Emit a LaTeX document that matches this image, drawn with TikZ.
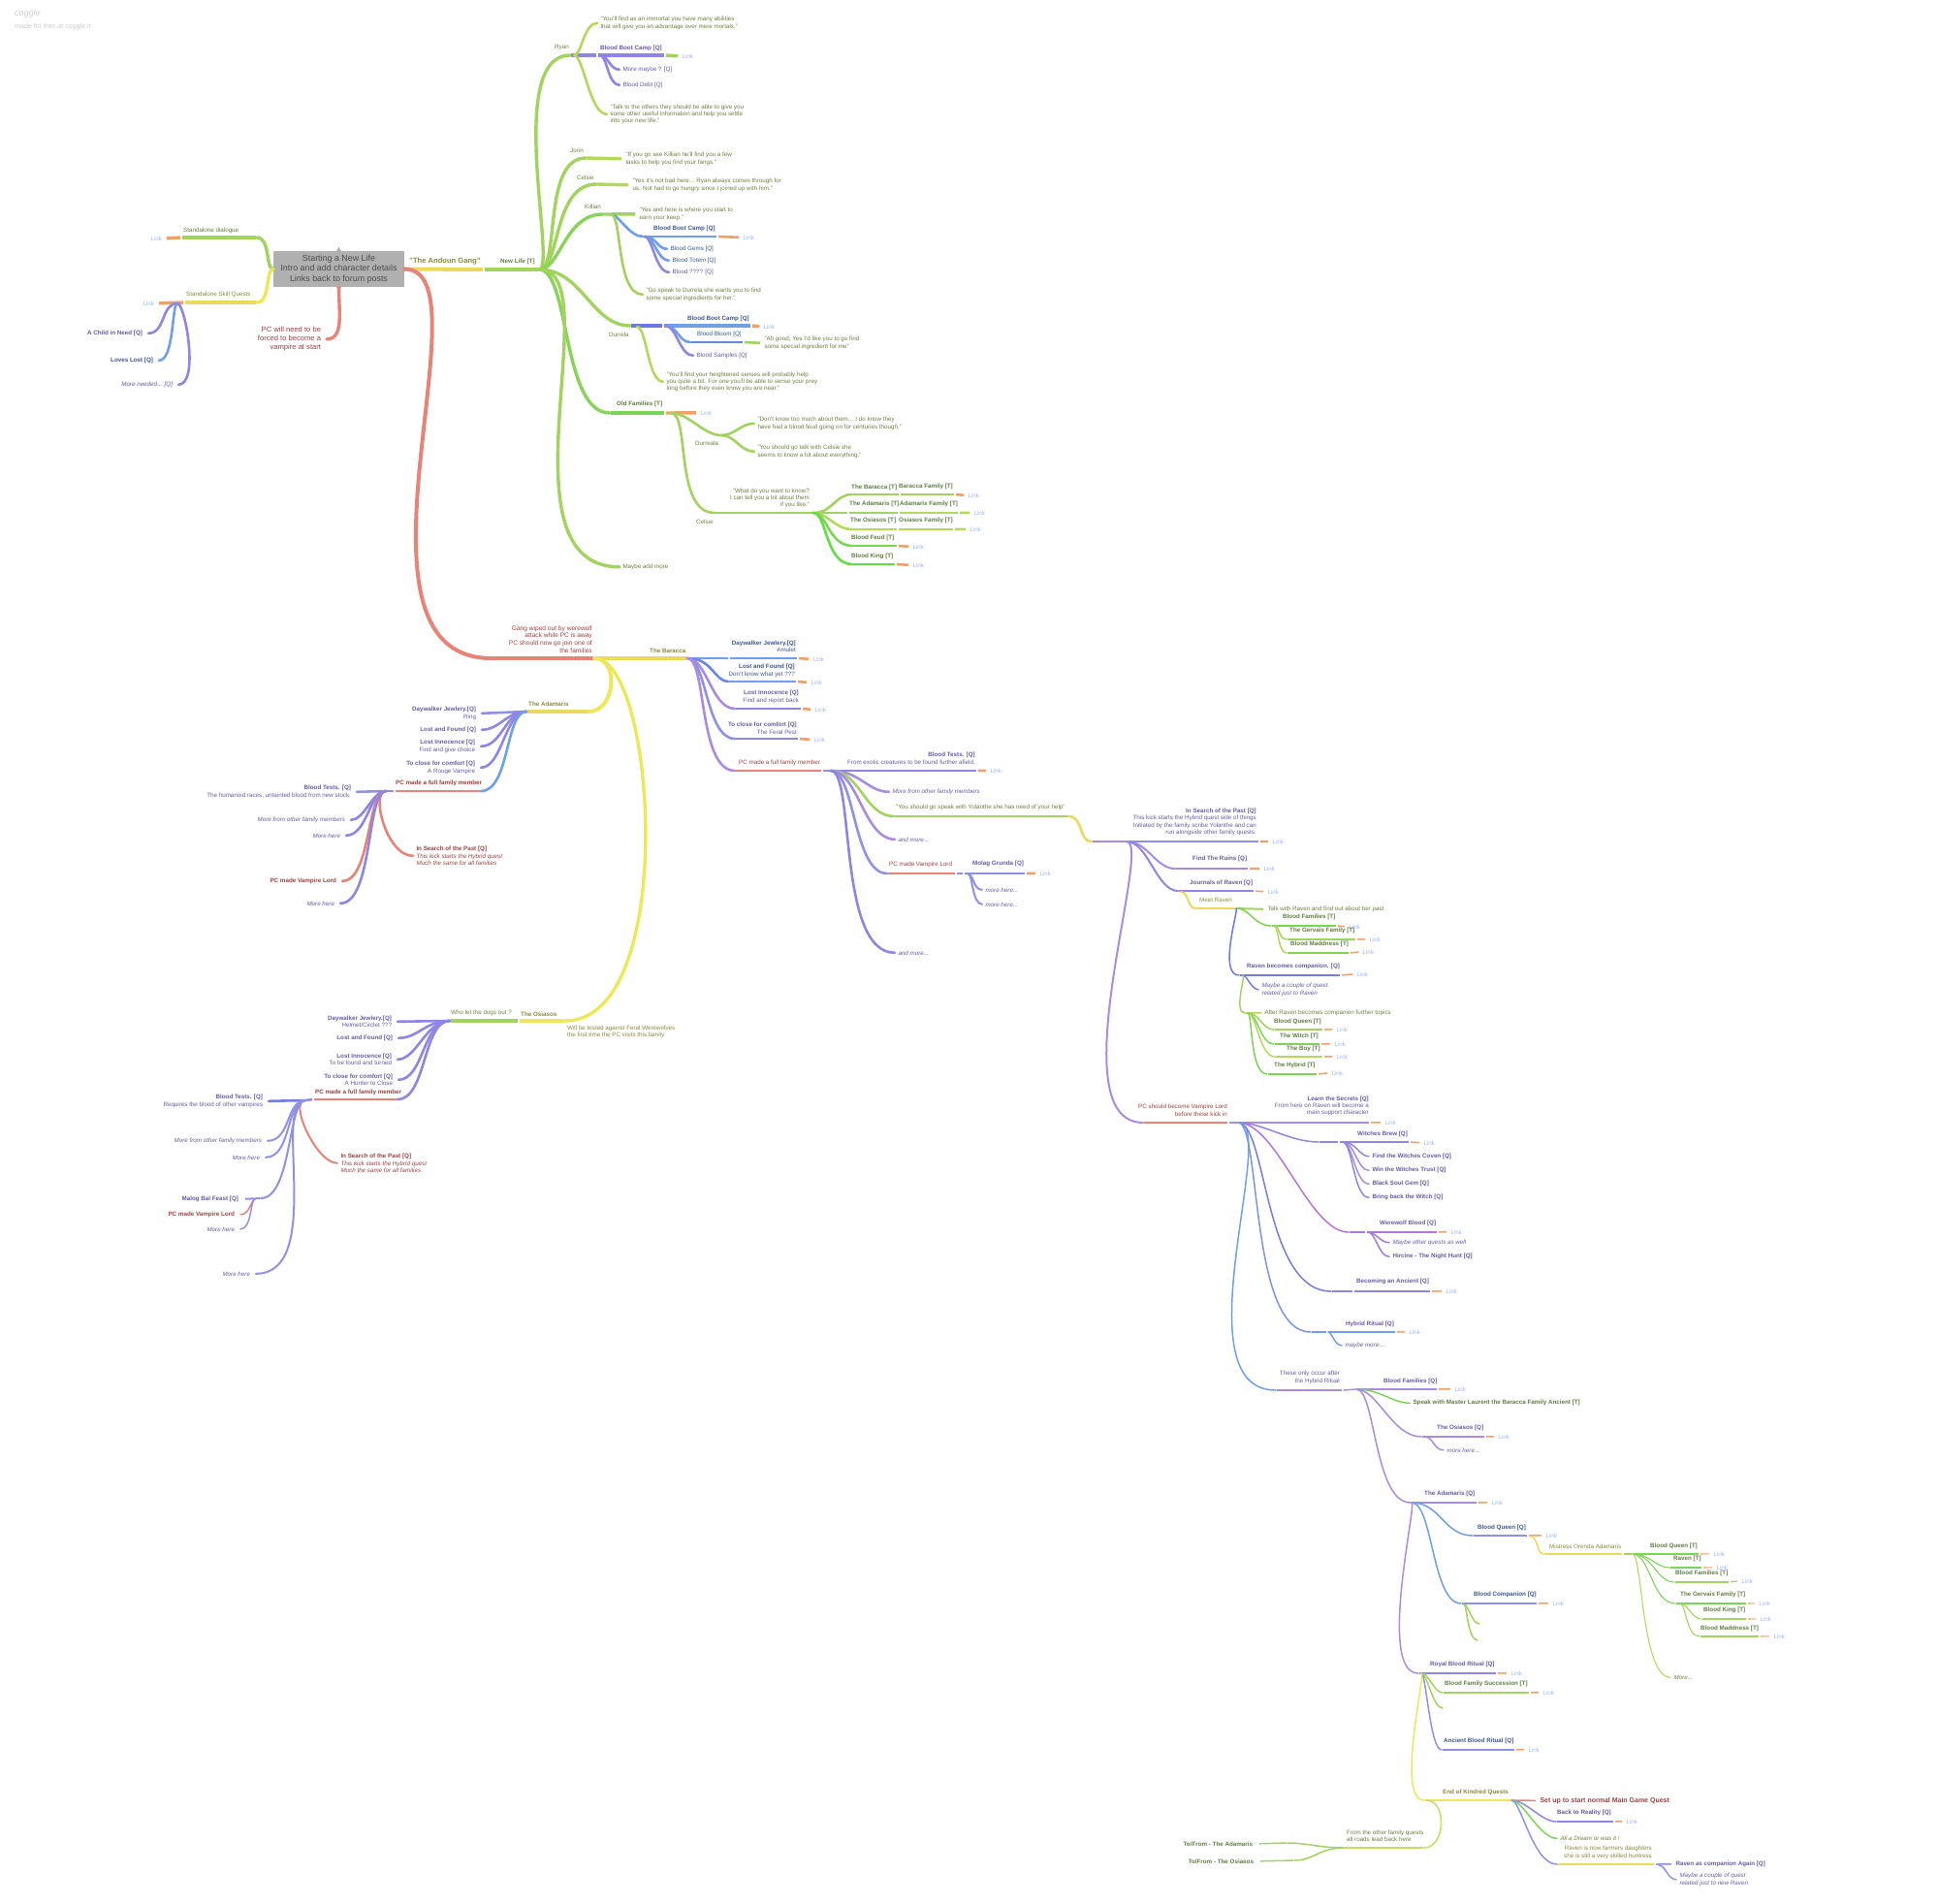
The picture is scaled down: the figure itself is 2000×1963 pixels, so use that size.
\documentclass[tikz,border=0pt]{standalone}
\usepackage{fontspec}
\setmainfont{Liberation Sans}
\definecolor{boxg}{HTML}{B0B0B0}
\definecolor{cgrn}{HTML}{A2D35E}
\definecolor{clim}{HTML}{B4D85A}
\definecolor{cgre}{HTML}{7CD455}
\definecolor{cyel}{HTML}{ECD85A}
\definecolor{clem}{HTML}{ECE85A}
\definecolor{cred}{HTML}{E88378}
\definecolor{corg}{HTML}{F2A066}
\definecolor{cblu}{HTML}{6E9FE8}
\definecolor{cvio}{HTML}{8F85E2}
\definecolor{cpur}{HTML}{A78CE0}
\definecolor{cind}{HTML}{6A78E0}
\definecolor{cmag}{HTML}{B575D8}
\definecolor{cper}{HTML}{8F90E8}
\definecolor{tgn}{HTML}{5E7D3E}
\definecolor{tqt}{HTML}{6D7F3F}
\definecolor{tol}{HTML}{8A8A3C}
\definecolor{tpu}{HTML}{4B3D94}
\definecolor{tbl}{HTML}{3E5596}
\definecolor{trd}{HTML}{9C4040}
\definecolor{tlk}{HTML}{9DB8F0}
\newcommand{\lbfont}{\fontsize{6.25}{7.4}\selectfont}
\tikzset{
	wa/.style={line width=4pt,line cap=round},
	wb/.style={line width=3.4pt,line cap=round},
	wc/.style={line width=2.6pt,line cap=round},
	wd/.style={line width=2pt,line cap=round},
	we/.style={line width=1.5pt,line cap=round},
	wf/.style={line width=1.1pt,line cap=round},
	seg/.style={line cap=butt,shorten <=0.8pt,shorten >=0.8pt},
	nl/.style={inner sep=0pt,font=\lbfont,anchor=west,align=left,yshift=-0.8pt},
	nr/.style={inner sep=0pt,font=\lbfont,anchor=east,align=right,yshift=-0.8pt},
	leaf/.style={nl,outer sep=3.5pt},
	leafr/.style={nr,outer sep=6pt},
	qq/.style={font=\lbfont\bfseries},
	ii/.style={font=\lbfont\itshape},
	link/.style={leaf,text=tlk},
	linkr/.style={nr,outer sep=4pt,text=tlk},
	tg/.style={text=tgn},
	tq/.style={text=tqt},
	to/.style={text=tol},
	tp/.style={text=tpu!85},
	tb/.style={text=tbl},
	tr/.style={text=trd},
	rootbox/.style={fill=boxg,minimum width=135pt,minimum height=37pt,inner sep=0pt,align=center,font=\fontsize{8.9}{10.2}\selectfont,text=black!70},
	speck/.style={fill=black!30}
}
\begin{document}
\begin{tikzpicture}[x=1pt,y=-1pt]
	\useasboundingbox (0,0) rectangle (2000,1963);
	\node[nl,text=black!20,font=\fontsize{9}{10}\selectfont\itshape] (logo) at (15,13) {coggle};
	\node[nl,text=black!20,font=\fontsize{7.1}{8}\selectfont] (made) at (15,27) {made for free at coggle.it};
	\node[rootbox] (root) at (349.5,277.5) {Starting a New Life\\Intro and add character details\\Links back to forum posts};
	\fill[boxg] (root.north) +(-2.5,0) -- +(0,-4) -- +(2.5,0) -- cycle;%small tips of the box
	\fill[boxg] (root.south) +(-2.5,0) -- +(0,4) -- +(2.5,0) -- cycle;
	\fill[boxg] (root.west) +(0,-2.5) -- +(-4,0) -- +(0,2.5) -- cycle;
	\fill[boxg] (root.east) +(0,-2.5) -- +(4,0) -- +(0,2.5) -- cycle;

	%left of the box
	\coordinate (sdlg) at (265,245);
	\coordinate (sdlgb) at (187,245);
	\coordinate (sskl) at (265,312);
	\coordinate (ssklb) at (190,312);
	\coordinate (sskh) at (183,313);
	\node[linkr] (sdlgk) at (171,245) {Link};
	\node[linkr] (ssklk) at (163,312) {Link};
	\node[nl,tg] (sdlgt) at (189,237) {Standalone dialogue};
	\node[nl,to] (ssklt) at (192,303) {Standalone Skill Quests};
	\node[leafr,qq,tp] (child) at (153,343) {A Child in Need [Q]};
	\node[leafr,qq,tb] (loves) at (164,371) {Loves Lost [Q]};
	\node[leafr,ii,tp] (needed) at (184,396) {More needed... [Q]};
	\node[leafr,tr,font=\fontsize{7.6}{9}\selectfont] (forced) at (337,349) {PC will need to be\\forced to become a\\vampire at start};
	\draw[wb,cgrn] (root.west) .. controls +(-8,0) and +(14,0) .. (sdlg);
	\draw[wb,cgrn,seg] (sdlg) -- (sdlgb);
	\draw[wb,corg,seg] (sdlgb) -- (sdlgk.east);
	\draw[wb,clem] (root.west) .. controls +(-8,0) and +(14,0) .. (sskl);
	\draw[wb,cyel,seg] (sskl) -- (ssklb);
	\draw[wb,corg,seg] (ssklb) -- (ssklk.east);
	\draw[wc,cvio] (sskh) .. controls +(-17,0) and +(18,0) .. (child.east);
	\draw[wc,cblu] (sskh) .. controls +(-6,0) and +(16,0) .. (loves.east);
	\draw[wc,cvio] (sskh) .. controls +(8,0) and +(22,0) .. (needed.east);
	\draw[wb,cred] (root.south) .. controls +(0,25) and +(18,0) .. (forced.east);

	%the gang and new life
	\coordinate (gang) at (499,278);
	\coordinate (life) at (556,278);
	\node[nl,to,font=\fontsize{7.6}{8}\selectfont\bfseries] (gangt) at (422,269) {"The Andoun Gang"};
	\node[nl,qq,tg] (lifet) at (516,269) {New Life [T]};
	\draw[wa,cyel,seg] (root.east) -- (gang);
	\draw[wa,cgrn,seg] (gang) -- (life);

	\coordinate (ryan) at (588,57);
	\coordinate (ryanb) at (616,57);
	\coordinate (ryanc) at (686,57);
	\coordinate (ryanh) at (592,57);
	\coordinate (ryanj) at (619,57);
	\node[nl,tq] (ryant) at (572,48) {Ryan};
	\node[nl,qq,tp] (ryanq) at (619,49) {Blood Boot Camp [Q]};
	\node[link] (ryank) at (700,57) {Link};
	\node[leaf,tq] (ryana) at (616,23) {"You'll find as an immortal you have many abilities\\that will give you an advantage over mere mortals."};
	\node[leaf,tq] (ryanz) at (626,117) {"Talk to the others they should be able to give you\\some other useful information and help you settle\\into your new life."};
	\node[leaf,tp] (maybe) at (639,71) {More maybe ? [Q]};
	\node[leaf,tp] (debt) at (639,87) {Blood Debt [Q]};
	\draw[wb,cgrn] (life) .. controls +(19,0) and +(-68,0) .. (ryan);
	\draw[wb,cvio,seg] (ryan) -- (ryanb);
	\draw[wb,cvio,seg] (ryanb) -- (ryanc);
	\draw[wb,cgrn,seg] (ryanc) -- (ryank.west);
	\draw[wc,clim] (ryanh) .. controls +(8,0) and +(-14,0) .. (ryana.west);
	\draw[wc,clim] (ryanh) .. controls +(10,0) and +(-18,0) .. (ryanz.west);
	\draw[wc,cvio] (ryanj) .. controls +(8,0) and +(-10,0) .. (maybe.west);
	\draw[wc,cvio] (ryanj) .. controls +(7,0) and +(-12,0) .. (debt.west);

	\coordinate (jorin) at (604,163);
	\coordinate (celsa) at (615,190);
	\coordinate (kill) at (622,221);
	\coordinate (killh) at (630,221);
	\coordinate (killb) at (663,244);
	\coordinate (killc) at (740,244);
	\coordinate (killj) at (665,244);
	\node[nl,tq] (jorint) at (588,154) {Jorin};
	\node[nl,tq] (celsat) at (595,182) {Celsie};
	\node[nl,tq] (killt) at (603,212) {Killian};
	\node[leaf,tq] (jorinq) at (642,163) {"If you go see Killian he'll find you a few\\tasks to help you find your fangs."};
	\node[leaf,tq] (celsq) at (649,190) {"Yes it's not bad here... Ryan always comes through for\\us. Not had to go hungry since I joined up with him."};
	\node[leaf,tq] (killq) at (656,220) {"Yes and here is where you start to\\earn your keep."};
	\node[leaf,tq] (killz) at (663,303) {"Go speak to Durrela she wants you to find\\some special ingredients for her."};
	\node[nl,qq,tb] (killt) at (674,235) {Blood Boot Camp [Q]};
	\node[link] (killk) at (763,244) {Link};
	\node[leaf,tb] (gems) at (688,256) {Blood Gems [Q]};
	\node[leaf,tb] (totem) at (690,268) {Blood Totem [Q]};
	\node[leaf,tp] (blqq) at (690,280) {Blood ???? [Q]};
	\draw[wb,cgrn] (life) .. controls +(22,0) and +(-45,0) .. (jorin);
	\draw[wb,clim,seg] (jorin) -- (jorinq.west);
	\draw[wb,cgrn] (life) .. controls +(22,0) and +(-45,0) .. (celsa);
	\draw[wb,clim,seg] (celsa) -- (celsq.west);
	\draw[wb,cgre!70!cgrn] (life) .. controls +(22,0) and +(-40,0) .. (kill);
	\draw[wb,cgrn,seg] (kill) -- (killq.west);
	\draw[wc,cblu] (killh) .. controls +(8,0) and +(-14,0) .. (killb);
	\draw[wc,cgrn] (killh) .. controls +(12,0) and +(-28,0) .. (killz.west);
	\draw[wc,cblu,seg] (killb) -- (killc);
	\draw[wc,corg,seg] (killc) -- (killk.west);
	\draw[wc,cblu] (killj) .. controls +(12,0) and +(-10,0) .. (gems.west);
	\draw[wc,cblu] (killj) .. controls +(10,0) and +(-12,0) .. (totem.west);
	\draw[wc,cvio] (killj) .. controls +(8,0) and +(-14,0) .. (blqq.west);

	\coordinate (durr) at (650,336);
	\coordinate (durrb) at (684,336);
	\coordinate (durrc) at (775,336);
	\coordinate (durrh) at (657,337);
	\coordinate (durrj) at (686,336);
	\coordinate (bloom) at (712,353);
	\coordinate (bloomb) at (767,353);
	\node[nl,tq] (durrt) at (628,344) {Durrela};
	\node[nl,qq,tb] (durrq) at (709,328) {Blood Boot Camp [Q]};
	\node[link] (durrk) at (784,336) {Link};
	\node[nl,tb] (bloomt) at (719,344) {Blood Bloom [Q]};
	\node[leaf,tq] (bloomq) at (785,353) {"Ah good, Yes I'd like you to go find\\some special ingredient for me"};
	\node[leaf,tp] (sample) at (715,366) {Blood Samples [Q]};
	\node[leaf,tq] (durrz) at (684,393) {"You'll find your heightened senses will probably help\\you quite a bit. For one you'll be able to sense your prey\\long before they even know you are near."};
	\draw[wb,cgrn] (life) .. controls +(45,0) and +(-40,0) .. (durr);
	\draw[wb,cind,seg] (durr) -- (durrb);
	\draw[wb,cblu,seg] (durrb) -- (durrc);
	\draw[wb,corg,seg] (durrc) -- (durrk.west);
	\draw[wc,cblu] (durrj) .. controls +(13,0) and +(-12,0) .. (bloom);
	\draw[wc,cind!70!cblu,seg] (bloom) -- (bloomb);
	\draw[wc,cgrn,seg] (bloomb) -- (bloomq.west);
	\draw[wc,cvio] (durrj) .. controls +(12,0) and +(-14,0) .. (sample.west);
	\draw[wc,clim] (durrh) .. controls +(10,0) and +(-16,0) .. (durrz.west);

	%old families
	\coordinate (oldf) at (629,426);
	\coordinate (oldfb) at (686,426);
	\coordinate (oldfh) at (692,426);
	\coordinate (drla) at (744,449);
	\coordinate (cels) at (737,529);
	\coordinate (celsb) at (839,529);
	\node[nl,qq,tg] (oldft) at (636,416) {Old Families [T]};
	\node[link] (oldfk) at (719,425) {Link};
	\node[nl,tq] (drlat) at (717,456) {Durreala};
	\node[leaf,tq] (drlaa) at (778,436) {"Don't know too much about them... I do know they\\have had a blood feud going on for centuries though."};
	\node[leaf,tq] (drlab) at (778,465) {"You should go talk with Celsie she\\seems to know a lot about everything."};
	\node[nl,tq] (celst) at (718,537) {Celsie};
	\node[nr,tq] (celsq) at (835,513) {"What do you want to know?\\I can tell you a bit about them\\if you like."};
	\node[leaf,tq] (maybet) at (639,584) {Maybe add more};
	\draw[wb,cgre!70!cgrn] (life) .. controls +(32,0) and +(-50,0) .. (oldf);
	\draw[wb,cgre,seg] (oldf) -- (oldfb);
	\draw[wb,corg,seg] (oldfb) -- (oldfk.west);
	\draw[wb,cgrn] (life) .. controls +(74,0) and +(-129,0) .. (maybet.west);
	\draw[wc,cgrn] (oldfh) .. controls +(18,0) and +(-18,0) .. (drla);
	\draw[wc,cgrn] (drla) .. controls +(14,0) and +(-14,0) .. (drlaa.west);
	\draw[wc,cgrn] (drla) .. controls +(14,0) and +(-14,0) .. (drlab.west);
	\draw[wc,cgrn] (oldfh) .. controls +(20,0) and +(-42,0) .. (cels);
	\draw[wc,cgrn,seg] (cels) -- (celsb);

	\coordinate (fbar) at (879,510);
	\coordinate (fbarb) at (928,510);
	\coordinate (fbarc) at (985,510);
	\coordinate (fada) at (875,529);
	\coordinate (fadab) at (927,529);
	\coordinate (fadac) at (989,529);
	\coordinate (fosi) at (879,546);
	\coordinate (fosib) at (926,546);
	\coordinate (fosic) at (984,546);
	\coordinate (ffeu) at (879,563);
	\coordinate (ffeub) at (926,563);
	\coordinate (fkin) at (879,582);
	\coordinate (fkinb) at (924,582);
	\node[nl,qq,tg] (fbart) at (878,502) {The Baracca [T]};
	\node[nl,qq,tg] (fbaru) at (927,501) {Baracca Family [T]};
	\node[link] (fbark) at (995,510) {Link};
	\node[nl,qq,tg] (fadat) at (876,519.5) {The Adamaris [T]};
	\node[nl,qq,tg] (fadau) at (928,519.5) {Adamaris Family [T]};
	\node[link] (fadak) at (1001,528) {Link};
	\node[nl,qq,tg] (fosit) at (877,536) {The Osiasos [T]};
	\node[nl,qq,tg] (fosiu) at (927,536) {Osiasos Family [T]};
	\node[link] (fosik) at (997,545) {Link};
	\node[nl,qq,tg] (ffeut) at (878,554) {Blood Feud [T]};
	\node[link] (ffeuk) at (938,563) {Link};
	\node[nl,qq,tg] (fkint) at (878,573) {Blood King [T]};
	\node[link] (fkink) at (938,582) {Link};
	\draw[wc,cgrn] (celsb) .. controls +(20,0) and +(-18,0) .. (fbar);
	\draw[wc,cgrn,seg] (fbar) -- (fbarb);
	\draw[wc,cgrn,seg] (fbarb) -- (fbarc);
	\draw[wc,corg,seg] (fbarc) -- (fbark.west);
	\draw[wc,cgrn,seg] (celsb) -- (fada);
	\draw[wc,cgrn,seg] (fada) -- (fadab);
	\draw[wc,clim,seg] (fadab) -- (fadac);
	\draw[wc,clim,seg] (fadac) -- (fadak.west);
	\draw[wc,clim] (celsb) .. controls +(15,0) and +(-18,0) .. (fosi);
	\draw[wc,clim,seg] (fosi) -- (fosib);
	\draw[wc,clim,seg] (fosib) -- (fosic);
	\draw[wc,clim,seg] (fosic) -- (fosik.west);
	\draw[wc,cgre] (celsb) .. controls +(14,0) and +(-24,0) .. (ffeu);
	\draw[wc,cgre,seg] (ffeu) -- (ffeub);
	\draw[wc,corg,seg] (ffeub) -- (ffeuk.west);
	\draw[wc,cgre!80!green] (celsb) .. controls +(14,0) and +(-28,0) .. (fkin);
	\draw[wc,cgre!80!green,seg] (fkin) -- (fkinb);
	\draw[wc,corg,seg] (fkinb) -- (fkink.west);

	%the families
	\coordinate (wipe) at (507,679);
	\coordinate (wipeb) at (613,679);
	\coordinate (bara) at (709,679);
	\node[nr,tr,font=\fontsize{6.6}{7.6}\selectfont] (wipet) at (611,658.5) {Gang wiped out by werewolf\\attack while PC is away\\PC should now go join one of\\the families};
	\node[nl,qq,to] (barat) at (670,670) {The Baracca};
	\draw[wa,cred] (root.east) .. controls +(90,0) and +(-167,0) .. (wipe);
	\draw[wa,cred,seg] (wipe) -- (wipeb);
	\draw[wa,cyel,seg] (wipeb) -- (bara);

	\coordinate (bday) at (752,679);
	\coordinate (bdayb) at (823,679);
	\coordinate (blos) at (751,703);
	\coordinate (blosb) at (822,703);
	\coordinate (binn) at (758,731);
	\coordinate (binnb) at (827,731);
	\coordinate (bclo) at (758,762);
	\coordinate (bclob) at (824,762);
	\coordinate (bful) at (758,795);
	\coordinate (bfulb) at (848,795);
	\coordinate (bhub) at (857,795);
	\coordinate (btes) at (1008,795);
	\coordinate (byol) at (922,842);
	\coordinate (byolb) at (1102,842);
	\coordinate (bvmp) at (915,901);
	\coordinate (bvmpb) at (986,901);
	\coordinate (bvmpc) at (994,901);
	\coordinate (bvmpd) at (1058,901);
	\coordinate (bvmph) at (999,902);
	\node[nr,tb] (bdayt) at (821,666) {\textbf{Daywalker Jewlery.[Q]}\\Amulet};
	\node[link] (bdayk) at (835,679) {Link};
	\node[nr,tb] (blost) at (820,691) {\textbf{Lost and Found [Q]}\\Don't know what yet ???};
	\node[link] (blosk) at (833,703) {Link};
	\node[nr,tp] (binnt) at (824,718) {\textbf{Lost Innocence [Q]}\\Find and report back};
	\node[link] (binnk) at (837,731) {Link};
	\node[nr,tp] (bclot) at (822,750.5) {\textbf{To close for comfort [Q]}\\The Feral Pest};
	\node[link] (bclok) at (836,762) {Link};
	\node[nl,tr] (bfult) at (762,786) {PC made a full family member};
	\node[nr,tp] (btest) at (1006,781.5) {\textbf{Blood Tests. [Q]}\\From exotic creatures to be found further afield.};
	\node[link] (btesk) at (1018,794) {Link};
	\node[leaf,ii,tp] (bmor) at (917,816) {More from other family members};
	\node[nl,tq] (byolt) at (924,832) {"You should go speak with Yolanthe she has need of your help"};
	\node[leaf,ii,tp] (band) at (923,865) {and more...};
	\node[leaf,ii,tp] (bane) at (923,982) {and more...};
	\node[nl,tr] (bvmpt) at (917,891.5) {PC made Vampire Lord};
	\node[nl,qq,tp] (bmolt) at (1003,890) {Molag Grunda [Q]};
	\node[link] (bmolk) at (1069,900) {Link};
	\node[leaf,ii,tp] (bmora) at (1013,917) {more here...};
	\node[leaf,ii,tp] (bmorb) at (1013,932) {more here...};
	\draw[wc,cblu,seg] (bara) -- (bday);
	\draw[wc,cblu,seg] (bday) -- (bdayb);
	\draw[wc,corg,seg] (bdayb) -- (bdayk.west);
	\draw[wc,cind!60!cblu] (bara) .. controls +(26,0) and +(-14,0) .. (blos);
	\draw[wc,cblu,seg] (blos) -- (blosb);
	\draw[wc,corg,seg] (blosb) -- (blosk.west);
	\draw[wc,cpur] (bara) .. controls +(20,0) and +(-24,0) .. (binn);
	\draw[wc,cvio,seg] (binn) -- (binnb);
	\draw[wc,corg,seg] (binnb) -- (binnk.west);
	\draw[wc,cper] (bara) .. controls +(20,0) and +(-30,0) .. (bclo);
	\draw[wc,cvio,seg] (bclo) -- (bclob);
	\draw[wc,corg,seg] (bclob) -- (bclok.west);
	\draw[wc,cpur] (bara) .. controls +(20,0) and +(-38,0) .. (bful);
	\draw[wc,cred,seg] (bful) -- (bfulb);
	\draw[wc,cper,seg] (bfulb) -- (bhub);
	\draw[wc,cvio,seg] (bhub) -- (btes);
	\draw[wc,corg,seg] (btes) -- (btesk.west);
	\draw[wc,cpur] (bhub) .. controls +(30,0) and +(-22,0) .. (bmor.west);
	\draw[wc,cgrn] (bhub) .. controls +(30,0) and +(-30,0) .. (byol);
	\draw[wc,cgrn,seg] (byol) -- (byolb);
	\draw[wc,cpur] (bhub) .. controls +(28,0) and +(-32,0) .. (band.west);
	\draw[wc,cper] (bhub) .. controls +(25,0) and +(-35,0) .. (bvmp);
	\draw[wc,cred,seg] (bvmp) -- (bvmpb);
	\draw[wc,cper,seg] (bvmpb) -- (bvmpc);
	\draw[wc,cper,seg] (bvmpc) -- (bvmpd);
	\draw[wc,corg,seg] (bvmpd) -- (bmolk.west);
	\draw[wd,cper] (bvmph) .. controls +(5,0) and +(-9,0) .. (bmora.west);
	\draw[wd,cper] (bvmph) .. controls +(4,0) and +(-10,0) .. (bmorb.west);
	\draw[wc,cvio] (bhub) .. controls +(25,0) and +(-60,0) .. (bane.west);

	%the adamaris
	\coordinate (adam) at (607,734);
	\coordinate (adamb) at (543,734);
	\coordinate (aful) at (496,816);
	\coordinate (afulb) at (407,816);
	\coordinate (ahub) at (398,816);
	\node[nl,qq,to] (adamt) at (545,725) {The Adamaris};
	\node[leafr,tp] (aday) at (497,735) {\textbf{Daywalker Jewlery.[Q]}\\Ring};
	\node[leafr,qq,tp] (alos) at (497,752) {Lost and Found [Q]};
	\node[leafr,tp] (ainn) at (496,769) {\textbf{Lost Innocence [Q]}\\Find and give choice};
	\node[leafr,tp] (aclo) at (496,791) {\textbf{To close for comfort [Q]}\\A Rouge Vampire};
	\node[nl,qq,tr] (afult) at (408,807) {PC made a full family member};
	\node[leafr,tp] (ates) at (368,816) {\textbf{Blood Tests. [Q]}\\The humanoid races, untainted blood from new stock.};
	\node[leafr,ii,tp] (amor) at (362,845) {More from other family members};
	\node[leafr,ii,tp] (ahea) at (357,861) {More here};
	\node[leaf,tr] (asea) at (426,882) {\textbf{In Search of the Past [Q]}\\\textit{This kick starts the Hybrid quest}\\\textit{Much the same for all families}};
	\node[leafr,qq,tr] (avmp) at (353,908) {PC made Vampire Lord};
	\node[leafr,ii,tp] (aher) at (351,931) {More here};
	\draw[wa,clem] (wipeb) .. controls +(26,0) and +(28,0) .. (adam);
	\draw[wa,cyel,seg] (adam) -- (adamb);
	\draw[wc,cper] (adamb) -- (aday.east);
	\draw[wc,cvio] (adamb) .. controls +(-20,0) and +(18,0) .. (alos.east);
	\draw[wc,cvio] (adamb) .. controls +(-22,0) and +(22,0) .. (ainn.east);
	\draw[wc,cvio] (adamb) .. controls +(-22,0) and +(22,0) .. (aclo.east);
	\draw[wc,cblu] (adamb) .. controls +(-22,0) and +(30,0) .. (aful);
	\draw[wc,cred,seg] (aful) -- (afulb);
	\draw[wc,cper,seg] (afulb) -- (ahub);
	\draw[wc,cper] (ahub) -- (ates.east);
	\draw[wc,cvio] (ahub) .. controls +(-14,0) and +(14,0) .. (amor.east);
	\draw[wc,cvio] (ahub) .. controls +(-17,0) and +(22,0) .. (ahea.east);
	\draw[wc,cred] (ahub) .. controls +(-16,0) and +(-28,0) .. (asea.west);
	\draw[wc,cred] (ahub) .. controls +(-20,0) and +(30,0) .. (avmp.east);
	\draw[wc,cvio] (ahub) .. controls +(-20,0) and +(34,0) .. (aher.east);

	%the osiasos
	\coordinate (osia) at (583,1053);
	\coordinate (osiab) at (535,1053);
	\coordinate (ohub) at (464,1053);
	\coordinate (oful) at (410,1134);
	\coordinate (ofulb) at (323,1134);
	\coordinate (otes) at (315,1135);
	\coordinate (omal) at (269,1236);
	\coordinate (omalh) at (263,1237);
	\node[nl,qq,to] (osiat) at (537,1045) {The Osiasos};
	\node[nl,tq] (osiaw) at (465,1044) {Who let the dogs out ?};
	\node[nl,to] (osiaz) at (585,1063.5) {Will be tested against Feral Werewolves\\the first time the PC visits this family};
	\node[leafr,tp] (oday) at (410,1053) {\textbf{Daywalker Jewlery.[Q]}\\Helmet/Circlet ???};
	\node[leafr,qq,tp] (olos) at (411,1070) {Lost and Found [Q]};
	\node[leafr,tp] (oinn) at (410,1092) {\textbf{Lost Innocence [Q]}\\To be found and turned};
	\node[leafr,tp] (oclo) at (411,1113) {\textbf{To close for comfort [Q]}\\A Hunter to Close};
	\node[nl,qq,tr] (ofult) at (325,1126) {PC made a full family member};
	\node[leafr,tp] (otest) at (277,1135) {\textbf{Blood Tests. [Q]}\\Requires the blood of other vampires};
	\node[leafr,ii,tp] (omor) at (276,1176) {More from other family members};
	\node[leafr,ii,tp] (ohea) at (274,1193) {More here};
	\node[leaf,tr] (osea) at (348,1199) {\textbf{In Search of the Past [Q]}\\\textit{This kick starts the Hybrid quest}\\\textit{Much the same for all families}};
	\node[leafr,qq,tp] (omalt) at (252,1236) {Malog Bal Feast [Q]};
	\node[leafr,qq,tr] (ovmp) at (248,1252) {PC made Vampire Lord};
	\node[leafr,ii,tp] (oher) at (248,1267) {More here};
	\node[leafr,ii,tp] (oend) at (264,1313) {More here};
	\draw[wb,clem] (wipeb) .. controls +(64,0) and +(117,0) .. (osia);
	\draw[wb,clem,seg] (osia) -- (osiab);
	\draw[wb,cgrn,seg] (osiab) -- (ohub);
	\draw[wc,cvio] (ohub) -- (oday.east);
	\draw[wc,cvio] (ohub) .. controls +(-25,0) and +(20,0) .. (olos.east);
	\draw[wc,cvio] (ohub) .. controls +(-25,0) and +(20,0) .. (oinn.east);
	\draw[wc,cvio] (ohub) .. controls +(-28,0) and +(26,0) .. (oclo.east);
	\draw[wc,cvio] (ohub) .. controls +(-28,0) and +(30,0) .. (oful);
	\draw[wc,cred,seg] (oful) -- (ofulb);
	\draw[wc,cper,seg] (ofulb) -- (otes);
	\draw[wc,cind!70!cper] (otes) -- (otest.east);
	\draw[wd,cper] (otes) .. controls +(-20,0) and +(24,0) .. (omor.east);
	\draw[wd,cper] (otes) .. controls +(-20,0) and +(27,0) .. (ohea.east);
	\draw[wd,cred] (otes) .. controls +(-18,0) and +(-22,0) .. (osea.west);
	\draw[wd,cper] (otes) .. controls +(-18,0) and +(32,0) .. (omal);
	\draw[wd,cper,seg] (omal) -- (omalt.east);
	\draw[we,cred] (omalh) .. controls +(-4,0) and +(10,0) .. (ovmp.east);
	\draw[we,cper] (omalh) .. controls +(-5,0) and +(12,0) .. (oher.east);
	\draw[wd,cper] (otes) .. controls +(-35,0) and +(72,0) .. (oend.east);

	%hybrid quest
	\coordinate (srch) at (1126,868);
	\coordinate (srchb) at (1162,868);
	\coordinate (srchc) at (1299,868);
	\coordinate (ruin) at (1212,896);
	\coordinate (ruinb) at (1288,896);
	\coordinate (jour) at (1215,919);
	\coordinate (jourb) at (1294,919);
	\coordinate (jourh) at (1218,920);
	\coordinate (meet) at (1233,937);
	\coordinate (meetb) at (1275,937);
	\coordinate (ffam) at (1311,955);
	\coordinate (ffamb) at (1379,955);
	\coordinate (ffamh) at (1314,955);
	\coordinate (gerv) at (1327,969);
	\coordinate (gervb) at (1399,969);
	\coordinate (madd) at (1327,983);
	\coordinate (maddb) at (1392,983);
	\coordinate (comp) at (1278,1006);
	\coordinate (compb) at (1383,1006);
	\coordinate (comph) at (1282,1006);
	\coordinate (aftr) at (1284,1045);
	\coordinate (aftrh) at (1287,1045);
	\coordinate (qun) at (1314,1062);
	\coordinate (qunb) at (1365,1062);
	\coordinate (wit) at (1314,1077);
	\coordinate (witb) at (1362,1077);
	\coordinate (boy) at (1315,1090);
	\coordinate (boyb) at (1365,1090);
	\coordinate (hyb) at (1307,1108);
	\coordinate (hybb) at (1359,1108);
	\node[nr,tp] (srcht) at (1296,847) {\textbf{In Search of the Past [Q]}\\This kick starts the Hybrid quest side of things\\Initiated by the family scribe Yolanthe and can\\run alongside other family quests.};
	\node[link] (srchk) at (1309,867) {Link};
	\node[nl,qq,tp] (ruint) at (1230,885.5) {Find The Ruins [Q]};
	\node[link] (ruink) at (1300,895) {Link};
	\node[nl,qq,tp] (jourt) at (1227,910) {Journals of Raven [Q]};
	\node[link] (jourk) at (1304,919) {Link};
	\node[nl,to] (meett) at (1237,928) {Meet Raven};
	\node[leaf,tq] (talk) at (1304,937) {Talk with Raven and find out about her past};
	\node[nl,qq,tg] (ffamt) at (1323,945.5) {Blood Families [T]};
	\node[link] (ffamk) at (1388,955) {Link};
	\node[nl,qq,tg] (gervt) at (1330,959.5) {The Gervais Family [T]};
	\node[link] (gervk) at (1409,968) {Link};
	\node[nl,qq,tg] (maddt) at (1331,973) {Blood Maddness [T]};
	\node[link] (maddk) at (1402,981) {Link};
	\node[nl,qq,tp] (compt) at (1286,996) {Raven becomes companion. [Q]};
	\node[link] (compk) at (1396,1004) {Link};
	\node[leaf,ii,tp] (compq) at (1298,1020) {Maybe a couple of quest\\related just to Raven};
	\node[leaf,tq] (aftrt) at (1301,1044) {After Raven becomes companion further topics};
	\node[nl,qq,tg] (qunt) at (1314,1053) {Blood Queen [T]};
	\node[link] (qunk) at (1375,1061) {Link};
	\node[nl,qq,tg] (witt) at (1320,1068.5) {The Witch [T]};
	\node[link] (witk) at (1373,1076) {Link};
	\node[nl,qq,tg] (boyt) at (1327,1081) {The Boy [T]};
	\node[link] (boyk) at (1375,1089) {Link};
	\node[nl,qq,tg] (hybt) at (1314,1098.5) {The Hybrid [T]};
	\node[link] (hybk) at (1370,1106) {Link};
	\draw[wc,cyel] (byolb) .. controls +(16,0) and +(-14,0) .. (srch);
	\draw[wd,cpur,seg] (srch) -- (srchb);
	\draw[wd,cper,seg] (srchb) -- (srchc);
	\draw[wd,corg,seg] (srchc) -- (srchk.west);
	\draw[wd,cpur] (srchb) .. controls +(22,0) and +(-20,0) .. (ruin);
	\draw[wd,cpur,seg] (ruin) -- (ruinb);
	\draw[wd,corg,seg] (ruinb) -- (ruink.west);
	\draw[wd,cvio] (srchb) .. controls +(22,0) and +(-22,0) .. (jour);
	\draw[we,cvio,seg] (jour) -- (jourb);
	\draw[we,corg,seg] (jourb) -- (jourk.west);
	\draw[wd,cyel] (jourh) .. controls +(8,0) and +(-8,0) .. (meet);
	\draw[wd,cyel,seg] (meet) -- (meetb);
	\draw[wd,cgrn,seg] (meetb) -- (talk.west);
	\draw[we,cgre] (meetb) .. controls +(15,0) and +(-18,0) .. (ffam);
	\draw[we,cgre,seg] (ffam) -- (ffamb);
	\draw[we,corg,seg] (ffamb) -- (ffamk.west);
	\draw[we,cgrn] (ffamh) .. controls +(6,0) and +(-8,0) .. (gerv);
	\draw[we,cgrn,seg] (gerv) -- (gervb);
	\draw[we,corg,seg] (gervb) -- (gervk.west);
	\draw[we,clim] (ffamh) .. controls +(5,0) and +(-9,0) .. (madd);
	\draw[we,cgre,seg] (madd) -- (maddb);
	\draw[we,corg,seg] (maddb) -- (maddk.west);
	\draw[we,cind] (meetb) .. controls +(3,0) and +(-22,0) .. (comp);
	\draw[we,cind!70!cvio,seg] (comp) -- (compb);
	\draw[we,corg,seg] (compb) -- (compk.west);
	\draw[we,cind!70!cvio] (comph) .. controls +(4,0) and +(-7,0) .. (compq.west);
	\draw[we,cgrn] (comph) .. controls +(3,0) and +(-12,0) .. (aftr);
	\draw[we,clim] (aftr) -- (aftrt.west);
	\draw[we,cgrn] (aftrh) .. controls +(12,0) and +(-12,0) .. (qun);
	\draw[we,cgrn,seg] (qun) -- (qunb);
	\draw[we,corg,seg] (qunb) -- (qunk.west);
	\draw[we,cgre] (aftrh) .. controls +(10,0) and +(-14,0) .. (wit);
	\draw[we,cgre,seg] (wit) -- (witb);
	\draw[we,corg,seg] (witb) -- (witk.west);
	\draw[we,clim] (aftrh) .. controls +(9,0) and +(-16,0) .. (boy);
	\draw[we,clim,seg] (boy) -- (boyb);
	\draw[we,corg,seg] (boyb) -- (boyk.west);
	\draw[we,cgre] (aftrh) .. controls +(5,0) and +(-18,0) .. (hyb);
	\draw[we,cgre,seg] (hyb) -- (hybb);
	\draw[we,corg,seg] (hybb) -- (hybk.west);

	%vampire lord
	\coordinate (vlrd) at (1179,1158);
	\coordinate (vlrdb) at (1267,1158);
	\coordinate (vhub) at (1277,1158);
	\coordinate (vlrn) at (1413,1158);
	\coordinate (wbr) at (1360,1178);
	\coordinate (wbrb) at (1381,1178);
	\coordinate (wbrc) at (1454,1178);
	\coordinate (wbrh) at (1385,1178);
	\coordinate (wwf) at (1391,1271);
	\coordinate (wwfb) at (1409,1271);
	\coordinate (wwfc) at (1483,1271);
	\coordinate (wwfh) at (1411,1271);
	\coordinate (anc) at (1373,1332);
	\coordinate (ancb) at (1396,1332);
	\coordinate (ancc) at (1476,1332);
	\coordinate (hyr) at (1352,1374);
	\coordinate (hyrb) at (1369,1374);
	\coordinate (hyrc) at (1440,1374);
	\coordinate (hyrh) at (1370,1374);
	\coordinate (late) at (1316,1434);
	\coordinate (lateb) at (1385,1434);
	\coordinate (lhub) at (1399,1433);
	\coordinate (lfam) at (1483,1433);
	\node[nr,tr] (vlrdt) at (1266,1144.5) {PC should become Vampire Lord\\before these kick in};
	\node[nr,tp] (vlrnt) at (1412,1140) {\textbf{Learn the Secrets [Q]}\\From here on Raven will become a\\main support character};
	\node[link] (vlrnk) at (1425,1157) {Link};
	\node[nl,qq,tp] (wbrt) at (1400,1169.5) {Witches Brew [Q]};
	\node[link] (wbrk) at (1465,1178) {Link};
	\node[leaf,qq,tp] (coven) at (1412,1192) {Find the Witches Coven [Q]};
	\node[leaf,qq,tp] (trust) at (1412,1206.5) {Win the Witches Trust [Q]};
	\node[leaf,qq,tp] (soul) at (1412,1220.5) {Black Soul Gem [Q]};
	\node[leaf,qq,tp] (bring) at (1412,1234.5) {Bring back the Witch [Q]};
	\node[nl,qq,tp] (wwft) at (1423,1261) {Werewolf Blood [Q]};
	\node[link] (wwfk) at (1493,1270) {Link};
	\node[leaf,ii,tp] (wwfq) at (1433,1281) {Maybe other quests as well};
	\node[leaf,qq,tp] (hirc) at (1433,1295.5) {Hircine - The Night Hunt [Q]};
	\node[nl,qq,tp] (anct) at (1399,1321.5) {Becoming an Ancient [Q]};
	\node[link] (anck) at (1488,1331) {Link};
	\node[nl,qq,tp] (hyrt) at (1388,1365) {Hybrid Ritual [Q]};
	\node[link] (hyrk) at (1450,1373) {Link};
	\node[leaf,ii,tp] (hyrq) at (1384,1387) {maybe more....};
	\node[nr,tp] (latet) at (1382,1420) {These only occur after\\the Hybrid Ritual};
	\node[nl,qq,tp] (lfamt) at (1427,1424) {Blood Families [Q]};
	\node[link] (lfamk) at (1497,1432) {Link};
	\draw[wd,cpur] (srchb) .. controls +(28,0) and +(-89,0) .. (vlrd);
	\draw[wd,cred,seg] (vlrd) -- (vlrdb);
	\draw[wd,cpur,seg] (vlrdb) -- (vhub);
	\draw[we,cpur,seg] (vhub) -- (vlrn);
	\draw[we,corg,seg] (vlrn) -- (vlrnk.west);
	\draw[we,cvio] (vhub) .. controls +(25,0) and +(-30,0) .. (wbr);
	\draw[we,cvio,seg] (wbr) -- (wbrb);
	\draw[we,cvio,seg] (wbrb) -- (wbrc);
	\draw[we,corg,seg] (wbrc) -- (wbrk.west);
	\draw[we,cvio] (wbrh) .. controls +(14,0) and +(-10,0) .. (coven.west);
	\draw[we,cpur] (wbrh) .. controls +(12,0) and +(-12,0) .. (trust.west);
	\draw[we,cpur] (wbrh) .. controls +(10,0) and +(-14,0) .. (soul.west);
	\draw[we,cvio] (wbrh) .. controls +(10,0) and +(-16,0) .. (bring.west);
	\draw[we,cmag] (vhub) .. controls +(40,0) and +(-41,0) .. (wwf);
	\draw[we,cmag,seg] (wwf) -- (wwfb);
	\draw[we,cmag,seg] (wwfb) -- (wwfc);
	\draw[we,corg,seg] (wwfc) -- (wwfk.west);
	\draw[we,cmag!60!cvio] (wwfh) .. controls +(8,0) and +(-9,0) .. (wwfq.west);
	\draw[we,cmag!60!cvio] (wwfh) .. controls +(8,0) and +(-11,0) .. (hirc.west);
	\draw[we,cind!70!cvio] (vhub) .. controls +(30,0) and +(-70,0) .. (anc);
	\draw[we,cvio,seg] (anc) -- (ancb);
	\draw[we,cvio,seg] (ancb) -- (ancc);
	\draw[we,corg,seg] (ancc) -- (anck.west);
	\draw[we,cblu!60!cvio] (vhub) .. controls +(24,0) and +(-64,0) .. (hyr);
	\draw[we,cblu,seg] (hyr) -- (hyrb);
	\draw[we,cblu,seg] (hyrb) -- (hyrc);
	\draw[we,corg,seg] (hyrc) -- (hyrk.west);
	\draw[we,cblu] (hyrh) .. controls +(4,0) and +(-8,0) .. (hyrq.west);
	\draw[we,cblu] (vhub) .. controls +(43,0) and +(-101,0) .. (late);
	\draw[we,cpur,seg] (late) -- (lateb);
	\draw[we,cpur,seg] (lateb) -- (lhub);
	\draw[we,cpur,seg] (lhub) -- (lfam);
	\draw[we,corg,seg] (lfam) -- (lfamk.west);

	%after the hybrid ritual
	\coordinate (losi) at (1466,1482);
	\coordinate (losib) at (1532,1482);
	\coordinate (losih) at (1470,1482);
	\coordinate (lada) at (1455,1550);
	\coordinate (ladab) at (1524,1550);
	\coordinate (ladah) at (1456,1550);
	\coordinate (lqun) at (1519,1584);
	\coordinate (lqunb) at (1576,1584);
	\coordinate (lqunh) at (1579,1585);
	\coordinate (lcmp) at (1507,1654);
	\coordinate (lcmpb) at (1586,1654);
	\coordinate (lcmph) at (1510,1655);
	\coordinate (lcmpx) at (1526,1675);
	\coordinate (lcmpy) at (1524,1692);
	\coordinate (mist) at (1592,1603);
	\coordinate (mistb) at (1674,1603);
	\coordinate (mhub) at (1684,1603);
	\coordinate (mque) at (1753,1603);
	\coordinate (mrav) at (1722,1617);
	\coordinate (mravb) at (1756,1617);
	\coordinate (mfam) at (1727,1632);
	\coordinate (mfamb) at (1784,1632);
	\coordinate (mger) at (1728,1654);
	\coordinate (mgerb) at (1802,1654);
	\coordinate (mgerh) at (1733,1654);
	\coordinate (mkin) at (1755,1670);
	\coordinate (mkinb) at (1802,1670);
	\coordinate (mmad) at (1753,1688);
	\coordinate (mmadb) at (1815,1688);
	\node[leaf,qq,tg] (speak) at (1454,1446.5) {Speak with Master Laurent the Baracca Family Ancient [T]};
	\node[nl,qq,tp] (losit) at (1482,1472.5) {The Osiasos [Q]};
	\node[link] (losik) at (1542,1481) {Link};
	\node[leaf,ii,tp] (losiq) at (1489,1495) {more here...};
	\node[nl,qq,tp] (ladat) at (1469,1540) {The Adamaris [Q]};
	\node[link] (ladak) at (1535,1549) {Link};
	\node[nl,qq,tb] (lqunt) at (1524,1575) {Blood Queen [Q]};
	\node[link] (lqunk) at (1591,1583) {Link};
	\node[nl,qq,tb] (lcmpt) at (1520,1644) {Blood Companion [Q]};
	\node[link] (lcmpk) at (1598,1653) {Link};
	\node[nl,to] (mistt) at (1598,1594) {Mistress Orenda Adamaris};
	\node[nl,qq,tg] (mquet) at (1702,1594) {Blood Queen [T]};
	\node[link] (mquek) at (1764,1602) {Link};
	\node[nl,qq,tg] (mravt) at (1726,1607) {Raven [T]};
	\node[link] (mravk) at (1767,1616) {Link};
	\node[nl,qq,tg] (mfamt) at (1728,1622) {Blood Families [T]};
	\node[link] (mfamk) at (1793,1630) {Link};
	\node[nl,qq,tg] (mgert) at (1733,1644.5) {The Gervais Family [T]};
	\node[link] (mgerk) at (1811,1653) {Link};
	\node[nl,qq,tg] (mkint) at (1757,1660.5) {Blood King [T]};
	\node[link] (mkink) at (1812,1669) {Link};
	\node[nl,qq,tg] (mmadt) at (1754,1679) {Blood Maddness [T]};
	\node[link] (mmadk) at (1826,1687) {Link};
	\node[leaf,ii,tq] (mmore) at (1723,1729.5) {More...};
	\draw[we,cgre] (lhub) .. controls +(25,0) and +(-18,0) .. (speak.west);
	\draw[we,cpur] (lhub) .. controls +(22,0) and +(-30,0) .. (losi);
	\draw[we,cpur,seg] (losi) -- (losib);
	\draw[we,corg,seg] (losib) -- (losik.west);
	\draw[we,cpur] (losih) .. controls +(8,0) and +(-10,0) .. (losiq.west);
	\draw[we,cpur] (lhub) .. controls +(20,0) and +(-38,0) .. (lada);
	\draw[we,cpur,seg] (lada) -- (ladab);
	\draw[we,corg,seg] (ladab) -- (ladak.west);
	\draw[we,cblu] (ladah) .. controls +(30,0) and +(-30,0) .. (lqun);
	\draw[we,cper,seg] (lqun) -- (lqunb);
	\draw[we,corg,seg] (lqunb) -- (lqunk.west);
	\draw[we,cblu] (ladah) .. controls +(22,0) and +(-30,0) .. (lcmp);
	\draw[we,cper,seg] (lcmp) -- (lcmpb);
	\draw[we,corg,seg] (lcmpb) -- (lcmpk.west);
	\draw[we,cgrn] (lcmph) .. controls +(5,0) and +(-8,0) .. (lcmpx);
	\draw[we,cgrn] (lcmph) .. controls +(3,0) and +(-10,0) .. (lcmpy);
	\draw[we,cyel] (lqunh) .. controls +(7,0) and +(-7,0) .. (mist);
	\draw[we,cyel,seg] (mist) -- (mistb);
	\draw[we,cgrn,seg] (mistb) -- (mhub);
	\draw[we,cgre,seg] (mhub) -- (mque);
	\draw[wf,corg,seg] (mque) -- (mquek.west);
	\draw[wf,cgre] (mhub) .. controls +(18,0) and +(-14,0) .. (mrav);
	\draw[wf,cgre,seg] (mrav) -- (mravb);
	\draw[wf,corg,seg] (mravb) -- (mravk.west);
	\draw[wf,cgre] (mhub) .. controls +(20,0) and +(-18,0) .. (mfam);
	\draw[wf,cgrn,seg] (mfam) -- (mfamb);
	\draw[wf,corg,seg] (mfamb) -- (mfamk.west);
	\draw[wf,cgre] (mhub) .. controls +(18,0) and +(-24,0) .. (mger);
	\draw[wf,cgre,seg] (mger) -- (mgerb);
	\draw[wf,corg,seg] (mgerb) -- (mgerk.west);
	\draw[wf,cgrn] (mgerh) .. controls +(8,0) and +(-10,0) .. (mkin);
	\draw[wf,cgrn,seg] (mkin) -- (mkinb);
	\draw[wf,corg,seg] (mkinb) -- (mkink.west);
	\draw[wf,cgrn] (mgerh) .. controls +(6,0) and +(-14,0) .. (mmad);
	\draw[wf,cgrn,seg] (mmad) -- (mmadb);
	\draw[wf,corg,seg] (mmadb) -- (mmadk.west);
	\draw[wf,clim] (mhub) .. controls +(10,0) and +(-30,0) .. (mmore.west);

	%royal ritual and the end
	\coordinate (roya) at (1463,1726);
	\coordinate (royab) at (1544,1726);
	\coordinate (royah) at (1466,1726);
	\coordinate (succ) at (1488,1746);
	\coordinate (succb) at (1578,1746);
	\coordinate (royax) at (1488,1762);
	\coordinate (ancr) at (1487,1805);
	\coordinate (ancrb) at (1563,1805);
	\coordinate (endk) at (1469,1857);
	\coordinate (endkb) at (1559,1857);
	\coordinate (endh) at (1471,1857);
	\coordinate (back) at (1605,1879);
	\coordinate (backb) at (1665,1879);
	\coordinate (farm) at (1606,1923);
	\coordinate (farmb) at (1707,1923);
	\coordinate (farmh) at (1711,1924);
	\coordinate (othr) at (1469,1906);
	\coordinate (othrb) at (1386,1906);
	\coordinate (tada) at (1328,1901);
	\coordinate (tosi) at (1335,1919);
	\node[nl,qq,tp] (royat) at (1475,1716) {Royal Blood Ritual [Q]};
	\node[link] (royak) at (1555,1725) {Link};
	\node[nl,qq,tg] (succt) at (1490,1736) {Blood Family Succession [T]};
	\node[link] (succk) at (1588,1745) {Link};
	\node[nl,qq,tb] (ancrt) at (1489,1795) {Ancient Blood Ritual [Q]};
	\node[link] (ancrk) at (1573,1804) {Link};
	\node[nl,qq,to] (endkt) at (1488,1848) {End of Kindred Quests};
	\node[leaf,tr,font=\fontsize{7}{8}\selectfont\bfseries] (setup) at (1585,1856.5) {Set up to start normal Main Game Quest};
	\node[nl,qq,tp] (backt) at (1606,1869.5) {Back to Reality [Q]};
	\node[link] (backk) at (1674,1878) {Link};
	\node[leaf,ii,tq] (dream) at (1606,1895.5) {All a Dream or was it !};
	\node[nr,to] (farmt) at (1704,1910) {Raven is now farmers daughters\\she is still a very skilled huntress};
	\node[leaf,qq,tp] (again) at (1725,1922) {Raven as companion Again [Q]};
	\node[leaf,ii,tp] (againq) at (1729,1938) {Maybe a couple of quest\\related just to new Raven};
	\node[nl,tq] (othrt) at (1389,1893) {From the other family quests\\all roads lead back here};
	\node[leafr,qq,tg] (toada) at (1298,1901) {To/From - The Adamaris};
	\node[leafr,qq,tg] (toosi) at (1299,1919) {To/From - The Osiasos};
	\draw[we,cpur] (ladah) .. controls +(6,0) and +(-43,0) .. (roya);
	\draw[we,cvio,seg] (roya) -- (royab);
	\draw[we,corg,seg] (royab) -- (royak.west);
	\draw[we,cgrn] (royah) .. controls +(8,0) and +(-9,0) .. (succ);
	\draw[we,cgrn,seg] (succ) -- (succb);
	\draw[we,corg,seg] (succb) -- (succk.west);
	\draw[we,cgrn] (royah) .. controls +(6,0) and +(-10,0) .. (royax);
	\draw[we,cper] (royah) .. controls +(5,0) and +(-12,0) .. (ancr);
	\draw[we,cper,seg] (ancr) -- (ancrb);
	\draw[we,corg,seg] (ancrb) -- (ancrk.west);
	\draw[we,clem] (royah) .. controls +(5,0) and +(-30,0) .. (endk);
	\draw[we,clem,seg] (endk) -- (endkb);
	\draw[we,cred,seg] (endkb) -- (setup.west);
	\draw[we,cvio] (endkb) .. controls +(15,0) and +(-15,0) .. (back);
	\draw[we,cvio,seg] (back) -- (backb);
	\draw[we,corg,seg] (backb) -- (backk.west);
	\draw[we,cgre] (endkb) .. controls +(12,0) and +(-18,0) .. (dream.west);
	\draw[we,cper] (endkb) .. controls +(10,0) and +(-25,0) .. (farm);
	\draw[we,cyel,seg] (farm) -- (farmb);
	\draw[we,cper,seg] (farmb) -- (again.west);
	\draw[we,cper] (farmh) .. controls +(7,0) and +(-9,0) .. (againq.west);
	\draw[we,clem!50!cgrn] (endh) .. controls +(22,0) and +(22,0) .. (othr);
	\draw[we,clem!50!cgrn,seg] (othr) -- (othrb);
	\draw[we,cgrn] (othrb) .. controls +(-25,0) and +(20,0) .. (tada);
	\draw[we,cgrn,seg] (tada) -- (toada.east);
	\draw[we,cgrn] (othrb) .. controls +(-25,0) and +(20,0) .. (tosi);
	\draw[we,cgrn,seg] (tosi) -- (toosi.east);

	%stray marks beside the branches
	\foreach \px/\py in {267/237,267/323,611/50,660/252,680/330,626/435,876/503,871/521,876/555,876/573,876/591,505/689,608/743,749/672,748/713,755/740,755/772,755/804,853/787,920/851,1122/876,989/893,912/909,401/808,497/824,320/1128,413/1143,271/1244,1157/860,1123/876,1208/904,1211/928,1229/945,1307/963,1324/977,1324/990,1274/1014,1279/1054,1310/1071,1310/1085,1312/1098,1303/1117,1273/1149,1176/1167,1357/1186,1377/1170,1406/1262,1388/1279,1393/1323,1371/1340,1365/1366,1349/1382,1394/1425,1313/1442,1463/1490,1451/1558,1516/1593,1504/1662,1588/1612,1531/1674,1529/1692,1680/1595,1720/1625,1726/1640,1726/1662,1753/1678,1751/1696,1460/1734,1485/1754,1493/1761,1485/1813,1467/1866,1602/1887,1602/1931,1473/1913,1333/1893,1339/1927}
		\fill[speck] (\px,\py) circle (0.4pt);
\end{tikzpicture}
\end{document}
